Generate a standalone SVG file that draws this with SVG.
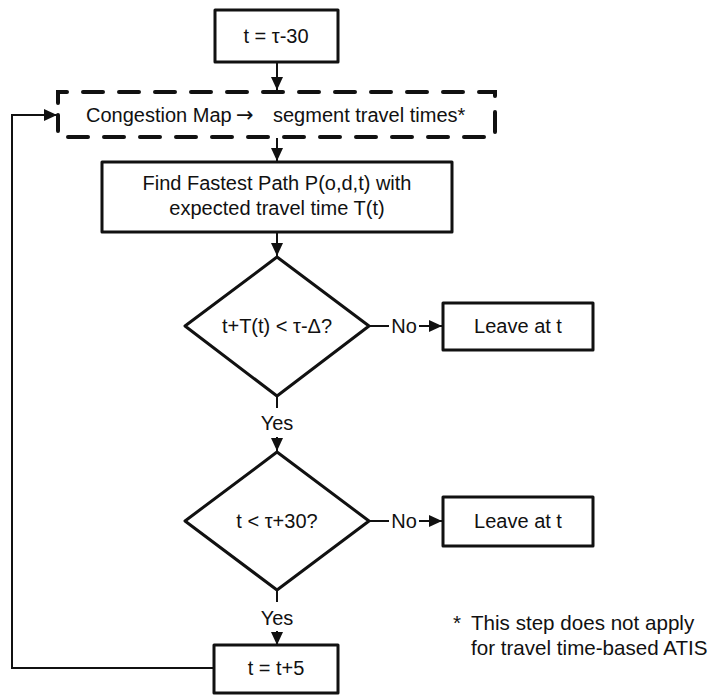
<svg xmlns="http://www.w3.org/2000/svg" width="715" height="696" viewBox="0 0 715 696">
<defs>
<style>
.box{fill:#fff;stroke:#111;stroke-width:3;stroke-linejoin:round}
.dash{fill:none;stroke:#111;stroke-width:4;stroke-dasharray:20 16;stroke-linecap:round}
.ln{fill:none;stroke:#111;stroke-width:2}
.t{font-family:"Liberation Sans",Arial,sans-serif;font-size:20px;fill:#111;text-anchor:middle}
.tl{font-family:"Liberation Sans",Arial,sans-serif;font-size:20px;fill:#111}
.ar{font-family:"DejaVu Sans",sans-serif;font-size:21px;fill:#111}
.fn{font-family:"Liberation Sans",Arial,sans-serif;font-size:20.6px;fill:#111}
</style>
<marker id="ah" markerUnits="userSpaceOnUse" markerWidth="14" markerHeight="12" refX="13" refY="6" orient="auto">
<path d="M0,0 L13,6 L0,12 Z" fill="#111"/>
</marker>
</defs>
<g id="connectors">
<line class="ln" x1="277" y1="62" x2="277" y2="90" marker-end="url(#ah)"/>
<line class="ln" x1="277" y1="138" x2="277" y2="161" marker-end="url(#ah)"/>
<line class="ln" x1="277" y1="232" x2="277" y2="256" marker-end="url(#ah)"/>
<line class="ln" x1="369" y1="326" x2="389" y2="326"/>
<line class="ln" x1="419" y1="326" x2="442" y2="326" marker-end="url(#ah)"/>
<line class="ln" x1="277" y1="396" x2="277" y2="408"/>
<line class="ln" x1="277" y1="437" x2="277" y2="451" marker-end="url(#ah)"/>
<line class="ln" x1="369" y1="521" x2="389" y2="521"/>
<line class="ln" x1="419" y1="521" x2="442" y2="521" marker-end="url(#ah)"/>
<line class="ln" x1="277" y1="590" x2="277" y2="602"/>
<line class="ln" x1="277" y1="631" x2="277" y2="645" marker-end="url(#ah)"/>
<polyline class="ln" points="214,668 12,668 12,115 57,115" marker-end="url(#ah)"/>
<text class="t" x="404" y="333">No</text>
<text class="t" x="277" y="430">Yes</text>
<text class="t" x="404" y="528">No</text>
<text class="t" x="277" y="625">Yes</text>
</g>
<g id="start">
<rect class="box" x="215" y="10" width="123" height="52"/>
<text class="t" x="276" y="43">t = τ-30</text>
</g>
<g id="congestion">
<path class="dash" d="M58,103 L58,92 L495,92 L495,137 L58,137 L58,115"/>
<text class="tl" x="86" y="122">Congestion Map</text>
<text class="ar" x="236" y="122">→</text>
<text class="tl" x="273" y="122">segment travel times*</text>
</g>
<g id="fastest">
<rect class="box" x="102" y="162" width="350" height="70"/>
<text class="t" x="277" y="190">Find Fastest Path P(o,d,t) with</text>
<text class="t" x="277" y="215">expected travel time T(t)</text>
</g>
<g id="decision1">
<polygon class="box" points="277,257 369,326 277,396 185,326"/>
<text class="t" x="277" y="333">t+T(t) &lt; τ-Δ?</text>
</g>
<g id="leave1">
<rect class="box" x="443" y="303" width="150" height="47"/>
<text class="t" x="518" y="333">Leave at t</text>
</g>
<g id="decision2">
<polygon class="box" points="277,452 369,521 277,590 185,521"/>
<text class="t" x="277" y="528">t &lt; τ+30?</text>
</g>
<g id="leave2">
<rect class="box" x="443" y="497" width="150" height="49"/>
<text class="t" x="518" y="528">Leave at t</text>
</g>
<g id="increment">
<rect class="box" x="214" y="645" width="124" height="48"/>
<text class="t" x="276" y="675">t = t+5</text>
</g>
<g id="footnote">
<text class="fn" x="453" y="630">*</text>
<text class="fn" x="471" y="630">This step does not apply</text>
<text class="fn" x="471" y="655">for travel time-based ATIS</text>
</g>
</svg>
